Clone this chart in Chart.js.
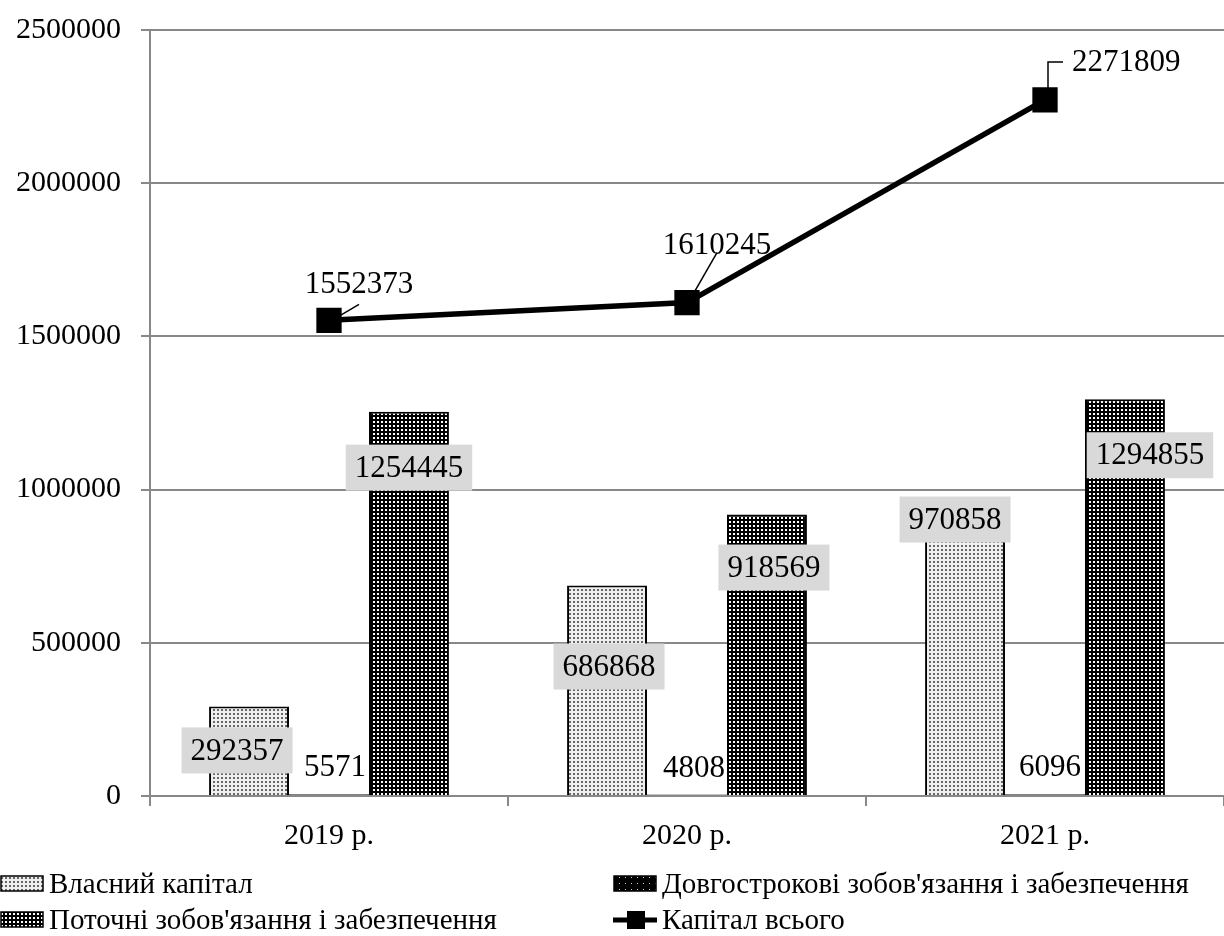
<!DOCTYPE html>
<html>
<head>
<meta charset="utf-8">
<script src="https://cdn.jsdelivr.net/npm/chart.js@4"></script>
<style>
  html, body { margin: 0; padding: 0; background: #fff; }
  canvas { display: block; }
</style>
</head>
<body>
<canvas id="capitalChart" width="1224" height="936"></canvas>
<script>
// data
const years = ['2019 р.', '2020 р.', '2021 р.'];
const ownCapital = [292357, 686868, 970858];
const longTermDebt = [5571, 4808, 6096];
const currentDebt = [1254445, 918569, 1294855];
const totalCapital = [1552373, 1610245, 2271809];

const seriesNames = [
	'Власний капітал',
	'Довгострокові зобов\'язання і забезпечення',
	'Поточні зобов\'язання і забезпечення',
	'Капітал всього'
];

const FONT = "'Liberation Serif', 'Times New Roman', serif";
const GRID = '#888888';

// dotted fills for the bars
function dots(size, bg, fg, dw, dh) {
	const c = document.createElement('canvas');
	c.width = size; c.height = size;
	const g = c.getContext('2d');
	g.fillStyle = bg;
	g.fillRect(0, 0, size, size);
	g.fillStyle = fg;
	g.fillRect(1, 1, dw, dh);
	return document.getElementById('capitalChart').getContext('2d').createPattern(c, 'repeat');
}
const lightDots = dots(4, '#efefef', '#666666', 2, 2);
const darkDots = dots(4, '#000000', '#ffffff', 2, 2);
const sparseDots = dots(6, '#000000', '#d0d0d0', 1, 1);

// bar value labels: [dx, dy from bar top, boxed]
const barLabelNudge = [
	[[-12, 44, true], [6, -27, false], [0, 56, true]],
	[[2, 81, true], [7, -27, false], [7, 53, true]],
	[[-10, 21, true], [5, -27, false], [25, 56, true]]
];

// callouts for the total line
const lineCallouts = [
	{ text: [30, -35], align: 'center', leader: [[8, -3], [30, -16]] },
	{ text: [30, -57], align: 'center', leader: [[7, -10], [30, -50]] },
	{ text: [27, -37], align: 'left', leader: [[3, -10], [3, -38], [18, -38]] }
];

const valueLabels = {
	id: 'valueLabels',
	afterDatasetsDraw(chart) {
		const ctx = chart.ctx;
		ctx.save();
		ctx.font = '31px ' + FONT;
		ctx.textBaseline = 'middle';
		[0, 1, 2].forEach(di => {
			const meta = chart.getDatasetMeta(di);
			meta.data.forEach((bar, i) => {
				const v = chart.data.datasets[di].data[i];
				const n = barLabelNudge[i][di];
				const x = bar.x + n[0];
				const y = bar.y + n[1];
				const txt = String(v);
				const w = ctx.measureText(txt).width;
				if (n[2]) {
					ctx.fillStyle = '#d9d9d9';
					ctx.fillRect(x - w / 2 - 9, y - 23, w + 18, 46);
				}
				ctx.fillStyle = '#000';
				ctx.textAlign = 'center';
				ctx.fillText(txt, x, y + 1);
			});
		});
		const lineMeta = chart.getDatasetMeta(3);
		lineMeta.data.forEach((pt, i) => {
			const c = lineCallouts[i];
			ctx.strokeStyle = '#000';
			ctx.lineWidth = 1.5;
			ctx.beginPath();
			c.leader.forEach((p, k) => {
				if (k === 0) ctx.moveTo(pt.x + p[0], pt.y + p[1]);
				else ctx.lineTo(pt.x + p[0], pt.y + p[1]);
			});
			ctx.stroke();
			ctx.fillStyle = '#000';
			ctx.textAlign = c.align;
			ctx.fillText(String(totalCapital[i]), pt.x + c.text[0], pt.y + c.text[1]);
		});
		ctx.restore();
	}
};

// two-column legend under the axis
const bottomLegend = {
	id: 'bottomLegend',
	afterDraw(chart) {
		const ctx = chart.ctx;
		const cols = [0, 613];
		const rows = [884, 920];
		ctx.save();
		ctx.font = '29px ' + FONT;
		ctx.textBaseline = 'middle';
		ctx.textAlign = 'left';
		chart.data.datasets.forEach((ds, k) => {
			const x = cols[k % 2];
			const y = rows[Math.floor(k / 2)];
			if (ds.type === 'line') {
				ctx.strokeStyle = '#000';
				ctx.lineWidth = 5;
				ctx.beginPath();
				ctx.moveTo(x, y);
				ctx.lineTo(x + 44, y);
				ctx.stroke();
				ctx.fillStyle = '#000';
				ctx.fillRect(x + 14, y - 9, 18, 18);
			} else {
				ctx.fillStyle = ds.legendFill;
				ctx.fillRect(x + 1, y - 8, 42, 15);
				ctx.strokeStyle = '#000';
				ctx.lineWidth = 1.5;
				ctx.strokeRect(x + 1, y - 8, 42, 15);
			}
			ctx.fillStyle = '#000';
			ctx.fillText(ds.label, x + 49, y + 1);
		});
		ctx.restore();
	}
};

Chart.defaults.font.family = FONT;
Chart.defaults.color = '#000';

new Chart('capitalChart', {
	type: 'bar',
	data: {
		labels: years,
		datasets: [{
			label: seriesNames[0],
			data: ownCapital,
			backgroundColor: lightDots,
			legendFill: lightDots,
			borderColor: '#000',
			borderWidth: 2,
			order: 1
		}, {
			label: seriesNames[1],
			data: longTermDebt,
			backgroundColor: '#000',
			legendFill: sparseDots,
			borderColor: '#000',
			borderWidth: 2,
			order: 1
		}, {
			label: seriesNames[2],
			data: currentDebt,
			backgroundColor: darkDots,
			legendFill: darkDots,
			borderColor: '#000',
			borderWidth: 2,
			order: 1
		}, {
			type: 'line',
			label: seriesNames[3],
			data: totalCapital,
			borderColor: '#000',
			backgroundColor: '#000',
			borderWidth: 5.5,
			pointStyle: 'rect',
			pointRadius: 14,
			pointHoverRadius: 14,
			tension: 0,
			clip: false,
			order: 0
		}]
	},
	options: {
		responsive: false,
		animation: false,
		devicePixelRatio: 1,
		datasets: {
			bar: { categoryPercentage: 0.67, barPercentage: 1.0 }
		},
		layout: { autoPadding: false, padding: { top: 30, right: 0, bottom: 80, left: 0 } },
		plugins: {
			legend: { display: false },
			tooltip: { enabled: false }
		},
		scales: {
			x: {
				grid: {
					offset: true,
					drawOnChartArea: false,
					drawTicks: true,
					tickLength: 10,
					color: GRID,
					lineWidth: 2
				},
				border: { color: GRID, width: 2 },
				ticks: { font: { size: 30 }, padding: 12 },
				afterFit(scale) {
					scale.height = 60;
					scale.paddingLeft = 0;
					scale.paddingRight = 0;
				}
			},
			y: {
				min: 0,
				max: 2500000,
				grid: { color: GRID, lineWidth: 2, tickLength: 9 },
				border: { color: GRID, width: 2 },
				ticks: {
					stepSize: 500000,
					font: { size: 30 },
					padding: 20,
					callback: v => String(v)
				},
				afterFit(scale) {
					scale.width = 150;
					scale.paddingTop = 0;
					scale.paddingBottom = 0;
				}
			}
		}
	},
	plugins: [valueLabels, bottomLegend]
});
</script>
</body>
</html>
